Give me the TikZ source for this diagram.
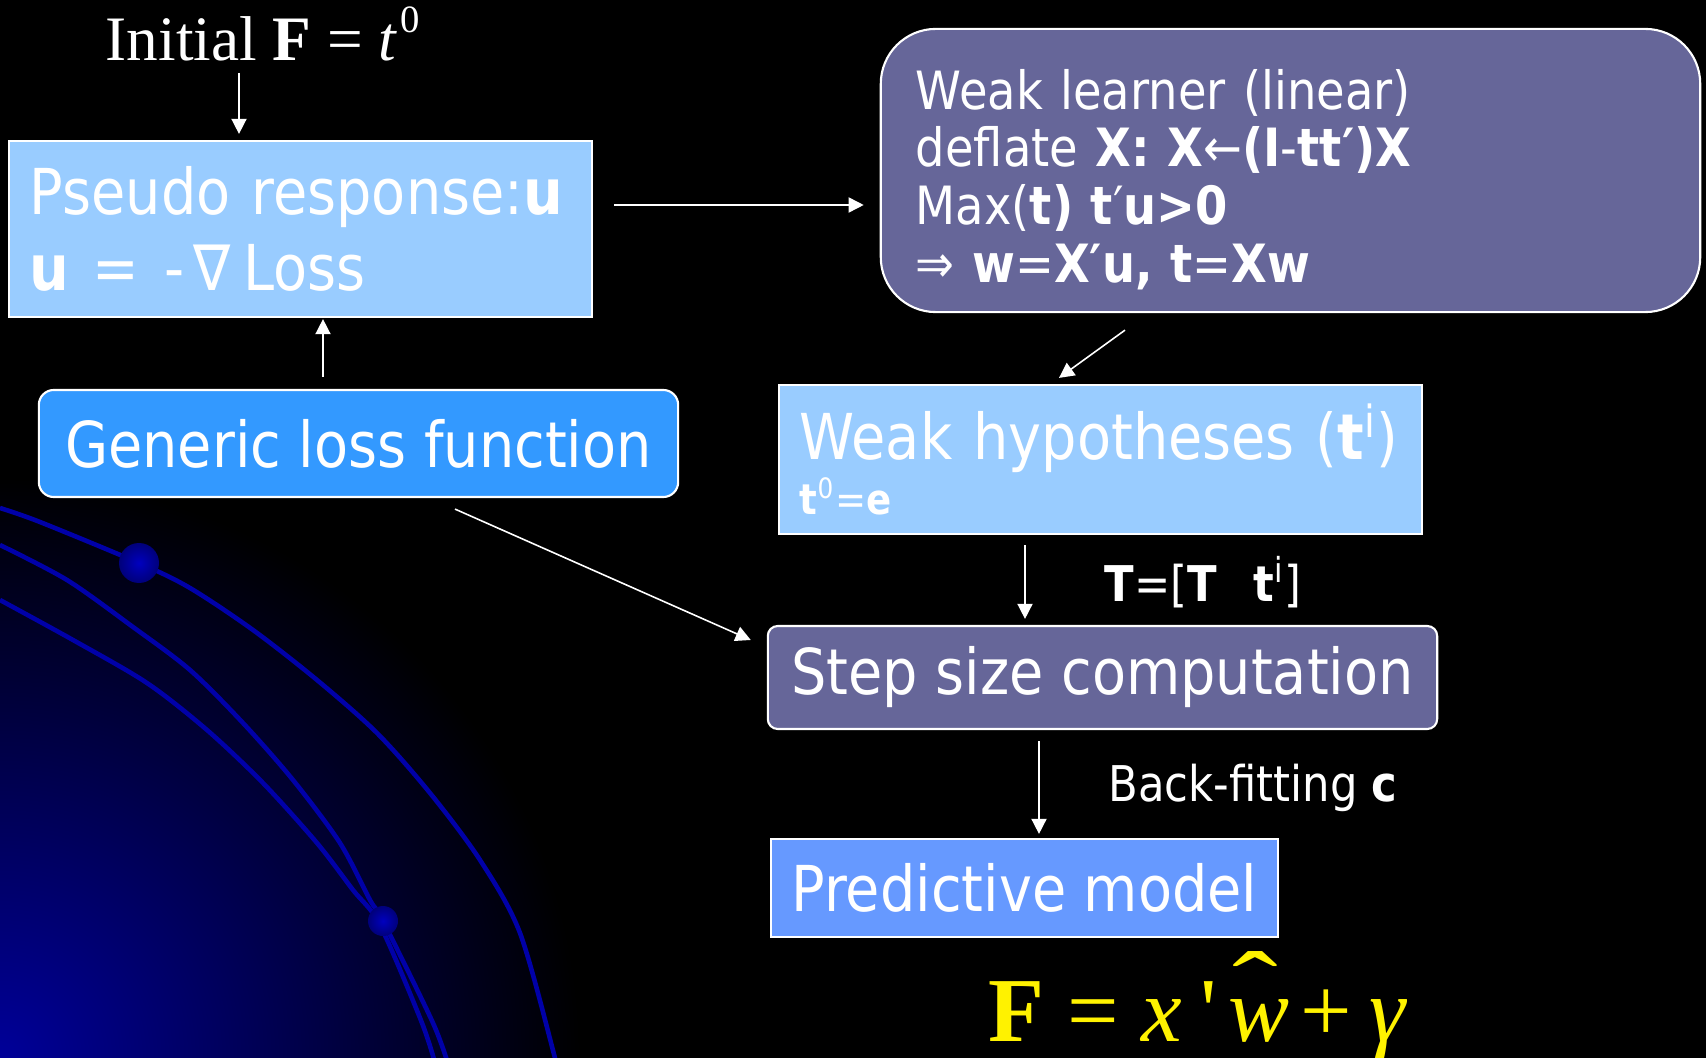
\documentclass[tikz,border=0pt]{standalone}
\usepackage{fontspec}
\usepackage{graphicx}
\setmainfont{DejaVu Sans}[FakeStretch=0.88]
\newfontfamily\timesfont{Liberation Serif}
\usetikzlibrary{positioning,arrows.meta,calc}
\definecolor{paleblue}{HTML}{99CCFF}
\definecolor{lossblue}{HTML}{3399FF}
\definecolor{slate}{HTML}{666699}
\definecolor{modelblue}{HTML}{6699FF}
\definecolor{arcblue}{HTML}{0000A8}
\definecolor{deepblue}{HTML}{000099}

\begin{document}
\begin{tikzpicture}[
    x=0.01cm, y=-0.01cm,
    >={Triangle[length=4.3pt,width=4.3pt]},
    bloc/.style={draw=white, line width=0.6pt, text=white, inner sep=0pt},
    gros/.style={font=\fontsize{18}{21.7}\selectfont},
    moyen/.style={font=\fontsize{15}{16.4}\selectfont},
    sig/.style={font=\fontsize{14}{16}\selectfont, text=white},
    fleche/.style={->, white, line width=0.45pt},
    orbite/.style={draw=arcblue, line width=1.3pt},
    bille/.style={inner color=blue!75!black, outer color=deepblue!80!black},
  ]
  % --- Fond ---
  \useasboundingbox (0,0) rectangle (1706,1058);
  \fill[black] (0,0) rectangle (1706,1058);
  \begin{scope}
    \clip (0,0) rectangle (1706,1058);
    \shade[inner color=deepblue, outer color=black] (0,1058) circle (580);
    \draw[orbite] plot[smooth] coordinates {(0,508) (40,522) (139,563) (190,588) (253,630) (317,680) (377,733) (430,793) (480,860) (520,933) (555,1058) (565,1100)};
    \draw[orbite] plot[smooth] coordinates {(0,545) (67,580) (133,627) (190,670) (243,723) (293,780) (340,843) (370,900) (383,921) (433,1023) (450,1070)};
    \draw[orbite] plot[smooth] coordinates {(0,600) (73,640) (147,683) (207,730) (263,783) (317,843) (353,890) (380,925) (422,1023) (437,1070)};
    \shade[bille] (139,563) circle (20);
    \shade[bille] (383,921) circle (15);
  \end{scope}

  % --- Blocs ---
  \node[text=white, font=\timesfont\fontsize{18}{20}\selectfont, anchor=base, inner sep=0pt] (init) at (263,61)
    {Initial \textbf{F} = \textit{t}\hspace{0.05em}\raisebox{8pt}{\fontsize{11}{11}\selectfont 0}};
  \node[bloc, gros, fill=paleblue, minimum width=5.83cm, minimum height=1.76cm, text width=5.41cm, align=left] (pseudo) at (300.5,229)
    {Pseudo response:\textbf{u}\\\textbf{u}\hspace{0.36em}=\hspace{0.4em}-\hspace{0.15em}∇\hspace{0.2em}Loss};
  \node[bloc, gros, fill=lossblue, rounded corners=0.15cm, minimum width=6.39cm, minimum height=1.07cm] (generic) at (358.5,443.5)
    {Generic loss function};
  \node[bloc, moyen, fill=slate, rounded corners=0.55cm, minimum width=8.19cm, minimum height=2.83cm, text width=7.49cm, align=left] (learner) at (1290.5,170.5)
    {\rule{0pt}{16.5pt}Weak learner (linear)\\
     deflate \textbf{X: X}←\textbf{(I}-\textbf{tt′)X}\\
     Max(\textbf{t) t}′\textbf{u>0}\\
     ⇒ \textbf{w}=\textbf{X′u, t}=\textbf{Xw}};
  \node[bloc, gros, fill=paleblue, minimum width=6.43cm, minimum height=1.49cm, text width=6.01cm, align=left] (hypo) at (1100.5,459.5)
    {Weak hypotheses (\textbf{t}\textsuperscript{i})\\[-6.3pt]{\fontsize{12}{14}\selectfont\textbf{t}\textsuperscript{0}=\textbf{e}}};
  \node[bloc, gros, fill=slate, rounded corners=0.1cm, minimum width=6.69cm, minimum height=1.03cm] (stepsize) at (1102.5,677.5)
    {Step size computation};
  \node[bloc, gros, fill=modelblue, minimum width=5.07cm, minimum height=0.98cm] (model) at (1024.5,888)
    {Predictive model};
  \node[text=yellow, font=\timesfont\fontsize{26}{30}\selectfont, anchor=base west, inner sep=0pt] (formule) at (988,1041)
    {\textbf{F} = \textit{x}\hspace{0.2em}\textquotesingle\hspace{0.12em}\textit{w}\llap{\raisebox{0.21em}{\makebox[0.74em][c]{\scalebox{1.5}[1.1]{ˆ}}}}\hspace{0.12em}+\hspace{0.2em}\textit{γ}};

  % Liaisons
  \draw[fleche] ($(init.base)+(-24,12)$) -- ($(pseudo.north)+(-61.5,-6)$);
  \draw[fleche] ($(generic.north)+(-35.5,-12)$) -- ($(pseudo.south)+(22.5,1)$);
  \draw[fleche] ($(pseudo.east)+(21,-24)$) -- ($(learner.west)+(-16,34.5)$);
  \draw[fleche] ($(learner.south)+(-165.5,17)$) -- ($(hypo.north)+(-41.5,-6)$);
  \draw[fleche] ($(hypo.south)+(-75.5,10)$) -- node[sig, right=0.67cm] (tlabel)
    {\textbf{T}=[\textbf{T}\hspace{0.75em}\textbf{t}\textsuperscript{i}]} ($(stepsize.north)+(-77.5,-6)$);
  \draw[fleche] ($(generic.south)+(96.5,11)$) -- ($(stepsize.west)+(-16,-37.5)$);
  \draw[fleche] ($(stepsize.south)+(-63.5,11)$) -- node[sig, right=0.57cm] (bflabel)
    {Back-fitting \textbf{c}} ($(model.north)+(14.5,-4)$);
\end{tikzpicture}
\end{document}
